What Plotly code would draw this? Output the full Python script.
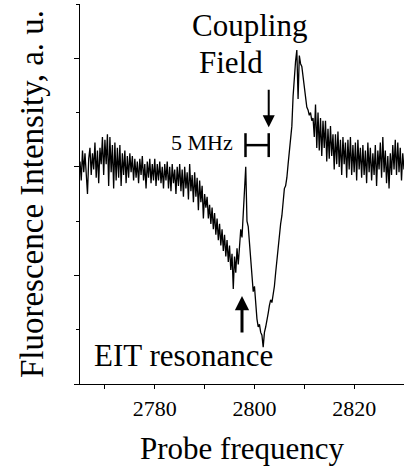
import numpy as np
import plotly.graph_objects as go

STEP = 0.25
seg_a_start = 2765.00
seg_a = [4.10, 3.75, 4.30, 3.90, 4.25, 3.95, 3.50, 4.15, 4.35, 3.85,
         4.25, 3.95, 4.45, 3.80, 4.30, 3.70, 4.35, 4.05, 4.55, 3.85,
         4.50, 4.05, 4.60, 3.65, 4.55, 3.90, 4.40, 3.60, 4.45, 3.75,
         4.35, 3.80, 4.40, 3.65, 4.25, 3.85, 4.30, 3.70, 4.20, 3.80,
         4.25]
seg_b_start = 2775.25
seg_b = [3.90, 4.20, 3.75, 4.15, 3.80, 4.10, 3.70, 4.15, 3.85, 4.20,
         3.75, 4.05, 3.60, 4.10, 3.80, 4.15, 3.70, 4.05, 3.75, 4.15,
         3.65, 4.05, 3.75, 4.10, 3.70, 4.00, 3.60, 4.05, 3.75, 4.10,
         3.60, 4.00, 3.55, 4.05, 3.70, 3.95, 3.50, 4.00, 3.65, 4.05,
         3.55, 3.95, 3.45, 4.00, 3.60, 3.90, 3.40, 4.05, 3.55, 3.85,
         3.35, 3.90, 3.45, 3.80, 3.20, 3.75, 3.35, 3.65, 3.05, 3.50]
seg_c_start = 2790.25
seg_c = [3.25, 3.45, 3.05, 3.30, 2.95, 3.25, 2.85, 3.15, 2.75, 3.05,
         2.65, 2.95, 2.55, 2.85, 2.45, 2.75, 2.35, 2.65, 2.25, 2.55,
         2.10, 2.40, 1.75, 2.35, 2.05, 2.50, 2.20, 2.60, 2.85, 2.70,
         3.10, 3.50]
seg_d_start = 2798.25
seg_d = [4.00, 3.00, 2.90, 2.60, 2.25, 2.05, 1.70, 1.80, 1.45, 1.20,
         1.05, 1.10, 0.95, 0.90, 0.68, 0.95, 1.05, 1.15, 1.30, 1.45,
         1.55, 1.50, 1.65, 1.80]
seg_e_start = 2804.25
seg_e = [2.05, 2.30, 2.55, 2.80, 2.95, 3.10, 3.40, 3.60, 3.65, 3.80,
         4.05, 4.30, 4.55, 4.75, 5.30, 5.75, 5.95, 6.15, 5.25, 6.05,
         5.90, 5.85, 5.65, 5.55, 5.35, 5.10, 5.05, 4.95, 5.00, 4.85,
         4.90]
seg_f_start = 2812.00
seg_f = [4.55, 5.15, 4.35, 5.00, 4.30, 4.90, 4.20, 4.85, 4.35, 4.85,
         4.10, 4.70, 4.15, 4.75, 4.20, 4.60, 3.95, 4.60, 4.05, 4.65,
         4.00, 4.50, 3.85, 4.55, 4.05, 4.45, 3.80, 4.50, 3.95, 4.55,
         3.85, 4.40, 3.90, 4.45, 3.75, 4.50, 3.95, 4.35, 3.80, 4.40,
         3.85, 4.30, 3.70, 4.45, 3.90, 4.35, 3.75, 4.25, 3.85, 4.40,
         3.65, 4.30, 3.95, 4.45, 3.80, 4.55, 3.90, 4.30, 3.70, 4.20,
         3.60, 4.25, 3.85, 4.40, 3.95, 4.50, 3.85, 4.45, 3.90, 4.35,
         3.75, 4.25, 3.95]

x_tickvals = [2780, 2800, 2820]
x_minor = [2770, 2790, 2810, 2830]
y_tickvals = [0, 2, 4, 6]
y_minor = [1, 3, 5, 7]

segments = [(seg_a_start, seg_a), (seg_b_start, seg_b), (seg_c_start, seg_c),
            (seg_d_start, seg_d), (seg_e_start, seg_e), (seg_f_start, seg_f)]
freq, inten = [], []
for start, vals in segments:
    freq.extend(start + STEP * np.arange(len(vals)))
    inten.extend(vals)

FONT = "Liberation Serif"

fig = go.Figure()
fig.add_trace(go.Scatter(x=freq, y=inten, mode="lines",
                         line=dict(color="black", width=1.3),
                         hoverinfo="skip", showlegend=False))

fig.update_layout(
    width=404, height=472,
    margin=dict(l=80, r=0, t=4, b=88),
    paper_bgcolor="white", plot_bgcolor="white",
    font=dict(family=FONT, color="black", size=22),
    showlegend=False,
)
fig.update_xaxes(
    range=[2765, 2830], tickvals=x_tickvals, ticks="outside", ticklen=4,
    tickwidth=1.3, tickcolor="black",
    minor=dict(tickvals=x_minor, ticks="outside", ticklen=4, tickwidth=1.3,
               tickcolor="black"),
    showline=True, linecolor="black", linewidth=1.3, showgrid=False,
    zeroline=False, tickfont=dict(family=FONT, size=22),
    title=dict(text="Probe frequency", font=dict(family=FONT, size=31),
               standoff=17),
)
fig.update_yaxes(
    range=[0, 7], tickvals=y_tickvals, showticklabels=False, ticks="outside",
    ticklen=5, tickwidth=1.3, tickcolor="black",
    minor=dict(tickvals=y_minor, ticks="outside", ticklen=3, tickwidth=1.3,
               tickcolor="black"),
    showline=True, linecolor="black", linewidth=1.3, showgrid=False,
    zeroline=False,
    title=dict(text="Fluorescence Intensity, a. u.",
               font=dict(family=FONT, size=33), standoff=20),
)

# text labels
fig.add_annotation(x=2799.0, y=6.60, text="Coupling", showarrow=False,
                   xanchor="center", yanchor="middle",
                   font=dict(family=FONT, size=31))
fig.add_annotation(x=2795.3, y=5.92, text="Field", showarrow=False,
                   xanchor="center", yanchor="middle",
                   font=dict(family=FONT, size=31))
fig.add_annotation(x=2796.0, y=4.44, text="5 MHz", showarrow=False,
                   xanchor="right", yanchor="middle",
                   font=dict(family=FONT, size=22))
fig.add_annotation(x=2785.7, y=0.52, text="EIT resonance", showarrow=False,
                   xanchor="center", yanchor="middle",
                   font=dict(family=FONT, size=31))

# arrows
fig.add_annotation(x=2802.86, y=4.73, ax=2802.86, ay=5.45, axref="x", ayref="y",
                   text="", showarrow=True, arrowhead=2, arrowsize=1.2,
                   arrowwidth=2, arrowcolor="black")
fig.add_annotation(x=2797.5, y=1.62, ax=2797.5, ay=0.92, axref="x", ayref="y",
                   text="", showarrow=True, arrowhead=2, arrowsize=0.95,
                   arrowwidth=3, arrowcolor="black")

# 5 MHz scale bar
for x0, y0, x1, y1 in [(2798.2, 4.40, 2802.86, 4.40),
                       (2798.2, 4.18, 2798.2, 4.62),
                       (2802.86, 4.18, 2802.86, 4.62)]:
    fig.add_shape(type="line", x0=x0, y0=y0, x1=x1, y1=y1, xref="x", yref="y",
                  line=dict(color="black", width=2.5))

fig.write_html("out.html", config={"displayModeBar": False},
               post_script="document.body.style.margin='0px';")
